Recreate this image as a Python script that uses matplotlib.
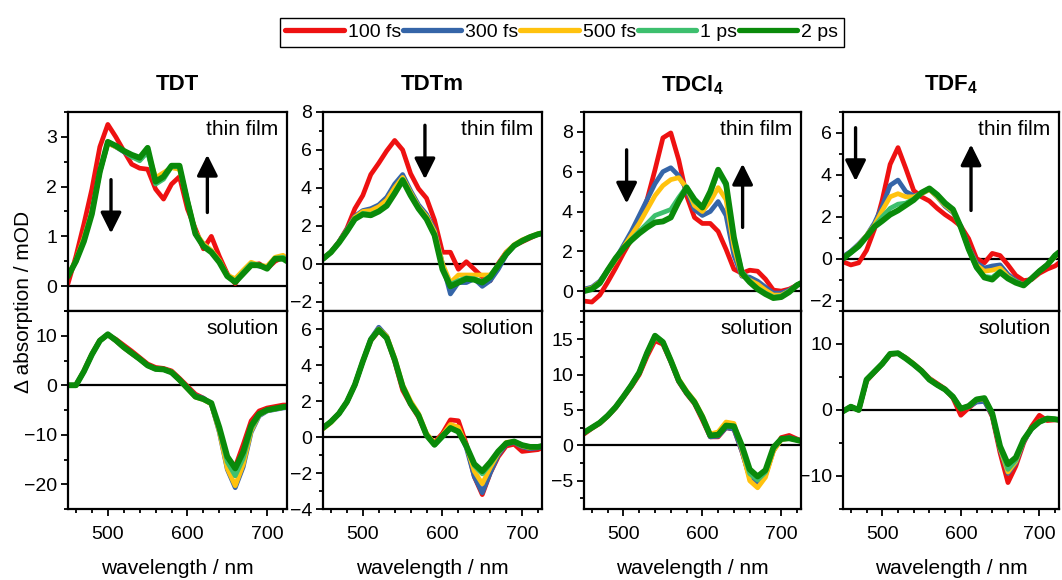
import matplotlib.pyplot as plt
from matplotlib.ticker import MultipleLocator
from matplotlib.lines import Line2D

plt.rcParams['font.family'] = ['Liberation Sans', 'DejaVu Sans']
plt.rcParams['mathtext.fontset'] = 'custom'
plt.rcParams['mathtext.rm'] = 'Liberation Sans'
plt.rcParams['mathtext.bf'] = 'Liberation Sans:bold'

# wavelength grid (nm)
wl = [450, 460, 470, 480, 490, 500, 510, 520, 530, 540, 550, 560, 570, 580,
      590, 600, 610, 620, 630, 640, 650, 660, 670, 680, 690, 700, 710, 720, 725]

delays = ["100 fs", "300 fs", "500 fs", "1 ps", "2 ps"]
colors = ["#ee1111", "#3565a8", "#ffc20e", "#3dbf6e", "#0a8a0a"]
titles = ["TDT", "TDTm", "TDCl$_\\mathbf{4}$", "TDF$_\\mathbf{4}$"]

# ---- TDT ----
tdt_film_100fs = [0.05, 0.6, 1.25, 1.95, 2.8, 3.25, 3.0, 2.72, 2.45, 2.37, 2.35, 1.95, 1.75, 2.05, 2.2, 1.55, 1.15, 0.75, 1.0, 0.6, 0.25, 0.05, 0.3, 0.42, 0.45, 0.35, 0.5, 0.58, 0.5]
tdt_film_300fs = [0.2, 0.5, 0.95, 1.5, 2.3, 2.88, 2.8, 2.7, 2.6, 2.55, 2.7, 2.15, 2.25, 2.4, 2.38, 1.7, 1.05, 0.85, 0.7, 0.5, 0.22, 0.12, 0.3, 0.45, 0.4, 0.38, 0.55, 0.6, 0.52]
tdt_film_500fs = [0.22, 0.52, 0.97, 1.5, 2.3, 2.87, 2.8, 2.72, 2.62, 2.55, 2.72, 2.18, 2.28, 2.38, 2.35, 1.72, 1.08, 0.85, 0.72, 0.52, 0.22, 0.15, 0.32, 0.48, 0.42, 0.4, 0.58, 0.62, 0.55]
tdt_film_1ps = [0.2, 0.5, 0.93, 1.47, 2.3, 2.9, 2.82, 2.72, 2.6, 2.52, 2.7, 2.05, 2.15, 2.4, 2.4, 1.72, 1.05, 0.82, 0.7, 0.5, 0.2, 0.1, 0.28, 0.45, 0.42, 0.36, 0.56, 0.58, 0.52]
tdt_film_2ps = [0.2, 0.5, 0.9, 1.45, 2.3, 2.9, 2.82, 2.72, 2.64, 2.58, 2.78, 2.1, 2.2, 2.42, 2.42, 1.7, 1.05, 0.8, 0.68, 0.48, 0.2, 0.08, 0.25, 0.42, 0.42, 0.35, 0.55, 0.55, 0.5]

tdt_sol_100fs = [0.0, 0.0, 2.9, 6.3, 9.1, 10.2, 9.3, 8.1, 6.9, 5.6, 4.3, 3.6, 3.4, 2.9, 1.4, -0.2, -1.8, -2.6, -3.8, -9.0, -14.5, -16.5, -12.0, -7.2, -5.2, -4.6, -4.3, -4.0, -4.0]
tdt_sol_300fs = [0.0, 0.0, 2.8, 6.2, 9.0, 10.2, 9.0, 7.6, 6.4, 5.3, 4.0, 3.3, 3.2, 2.6, 1.1, -0.5, -2.1, -2.6, -3.8, -9.5, -17.0, -20.7, -16.5, -9.5, -6.2, -5.2, -4.9, -4.6, -4.5]
tdt_sol_500fs = [0.0, 0.0, 2.9, 6.3, 9.0, 10.2, 9.0, 7.6, 6.4, 5.3, 4.0, 3.3, 3.2, 2.7, 1.0, -0.7, -2.4, -2.9, -3.8, -9.3, -16.8, -20.3, -16.0, -9.2, -6.0, -5.1, -4.8, -4.5, -4.4]
tdt_sol_1ps = [0.0, 0.0, 2.8, 6.2, 9.0, 10.3, 9.1, 7.7, 6.5, 5.3, 4.0, 3.3, 3.2, 2.6, 1.1, -0.6, -2.3, -2.8, -3.7, -8.9, -15.5, -18.3, -14.8, -8.8, -6.0, -5.1, -4.8, -4.5, -4.4]
tdt_sol_2ps = [0.0, 0.0, 2.8, 6.2, 9.0, 10.3, 9.1, 7.7, 6.5, 5.3, 4.0, 3.3, 3.2, 2.6, 1.1, -0.6, -2.3, -2.8, -3.6, -8.5, -14.4, -16.8, -13.5, -8.2, -5.8, -5.0, -4.7, -4.4, -4.3]

# ---- TDTm ----
tdtm_film_100fs = [0.25, 0.6, 1.15, 1.85, 2.9, 3.6, 4.7, 5.3, 5.95, 6.5, 6.0, 4.75, 3.95, 3.45, 2.3, 0.6, 0.6, -0.3, 0.1, -0.3, -0.7, -0.9, 0.0, 0.6, 0.95, 1.15, 1.35, 1.55, 1.6]
tdtm_film_300fs = [0.25, 0.6, 1.15, 1.8, 2.5, 2.8, 2.9, 3.1, 3.5, 4.2, 4.7, 3.85, 3.1, 2.6, 1.8, 0.0, -1.6, -1.0, -1.0, -0.8, -1.2, -0.9, -0.3, 0.45, 0.95, 1.2, 1.4, 1.55, 1.6]
tdtm_film_500fs = [0.25, 0.6, 1.12, 1.75, 2.45, 2.75, 2.8, 3.0, 3.35, 4.0, 4.55, 3.75, 3.0, 2.5, 1.7, 0.0, -1.0, -0.6, -0.6, -0.6, -0.6, -0.6, -0.1, 0.6, 1.0, 1.25, 1.42, 1.58, 1.62]
tdtm_film_1ps = [0.25, 0.6, 1.1, 1.7, 2.35, 2.65, 2.6, 2.78, 3.1, 3.75, 4.45, 3.65, 2.95, 2.4, 1.55, -0.2, -1.1, -0.9, -0.75, -0.8, -0.95, -0.65, -0.05, 0.5, 0.95, 1.2, 1.4, 1.55, 1.6]
tdtm_film_2ps = [0.25, 0.6, 1.1, 1.7, 2.35, 2.6, 2.55, 2.75, 3.05, 3.7, 4.4, 3.6, 2.9, 2.35, 1.5, -0.3, -1.2, -1.0, -0.8, -0.85, -1.0, -0.7, -0.1, 0.5, 0.95, 1.2, 1.4, 1.55, 1.6]

tdtm_sol_100fs = [0.5, 0.85, 1.3, 1.95, 2.9, 4.2, 5.35, 5.9, 5.5, 4.2, 2.6, 1.8, 1.1, 0.1, -0.3, 0.2, 0.95, 0.9, -0.4, -2.2, -3.2, -2.0, -1.1, -0.5, -0.4, -0.8, -0.75, -0.7, -0.6]
tdtm_sol_300fs = [0.5, 0.85, 1.3, 1.95, 2.9, 4.2, 5.45, 6.1, 5.6, 4.3, 2.8, 1.9, 1.2, 0.15, -0.4, 0.05, 0.55, 0.4, -0.6, -2.2, -3.1, -2.0, -1.0, -0.4, -0.3, -0.55, -0.65, -0.6, -0.55]
tdtm_sol_500fs = [0.45, 0.8, 1.3, 1.95, 2.9, 4.2, 5.4, 6.0, 5.6, 4.4, 2.9, 2.0, 1.3, 0.2, -0.35, 0.1, 0.7, 0.55, -0.5, -1.9, -2.6, -1.7, -0.9, -0.3, -0.25, -0.5, -0.6, -0.55, -0.5]
tdtm_sol_1ps = [0.5, 0.85, 1.3, 1.95, 2.9, 4.2, 5.4, 5.95, 5.5, 4.3, 2.8, 1.85, 1.2, 0.1, -0.45, 0.0, 0.5, 0.3, -0.5, -1.6, -2.05, -1.5, -0.85, -0.35, -0.25, -0.45, -0.55, -0.55, -0.5]
tdtm_sol_2ps = [0.5, 0.85, 1.3, 1.95, 2.9, 4.2, 5.4, 5.95, 5.5, 4.3, 2.8, 1.85, 1.2, 0.1, -0.43, 0.05, 0.5, 0.3, -0.5, -1.5, -1.9, -1.4, -0.8, -0.35, -0.25, -0.45, -0.55, -0.55, -0.5]

# ---- TDCl4 ----
tdcl_film_100fs = [-0.5, -0.55, -0.2, 0.45, 1.15, 1.9, 2.6, 3.5, 4.6, 6.1, 7.7, 7.95, 6.6, 4.8, 3.7, 3.4, 3.4, 3.0, 2.1, 1.1, 0.9, 1.05, 1.0, 0.6, 0.05, 0.0, 0.1, 0.3, 0.4]
tdcl_film_300fs = [0.1, 0.2, 0.5, 1.05, 1.6, 2.3, 3.0, 3.8, 4.6, 5.4, 6.0, 6.2, 5.8, 5.1, 4.1, 3.8, 4.0, 4.5, 3.8, 1.8, 0.75, 0.7, 0.5, 0.2, -0.1, -0.1, 0.05, 0.3, 0.4]
tdcl_film_500fs = [0.05, 0.15, 0.45, 1.0, 1.55, 2.2, 2.8, 3.4, 4.1, 4.8, 5.3, 5.6, 5.7, 5.2, 4.3, 4.0, 4.5, 5.2, 4.6, 2.2, 0.8, 0.55, 0.35, 0.05, -0.2, -0.2, 0.0, 0.3, 0.4]
tdcl_film_1ps = [0.0, 0.1, 0.4, 1.05, 1.6, 2.15, 2.6, 3.0, 3.4, 3.8, 3.95, 4.1, 4.7, 5.25, 4.5, 4.2, 4.9, 6.0, 5.3, 2.6, 1.0, 0.5, 0.15, -0.1, -0.3, -0.25, 0.0, 0.3, 0.4]
tdcl_film_2ps = [0.0, 0.1, 0.4, 1.05, 1.65, 2.15, 2.55, 2.9, 3.2, 3.45, 3.5, 3.7, 4.5, 5.2, 4.6, 4.2, 5.0, 6.1, 5.4, 2.7, 0.9, 0.45, 0.1, -0.15, -0.35, -0.3, -0.05, 0.3, 0.4]

tdcl_sol_100fs = [1.6, 2.4, 3.1, 4.1, 5.3, 6.8, 8.3, 10.0, 12.6, 14.8, 14.3, 11.8, 9.0, 7.3, 5.9, 3.6, 1.2, 1.2, 2.5, 2.3, -0.8, -4.5, -5.6, -4.2, -0.8, 1.1, 1.4, 0.9, 0.7]
tdcl_sol_300fs = [1.8, 2.5, 3.2, 4.2, 5.4, 6.9, 8.5, 10.3, 13.0, 15.3, 14.5, 11.9, 9.1, 7.4, 6.0, 3.9, 1.2, 1.3, 2.5, 2.3, -0.8, -4.6, -5.5, -4.0, -0.6, 0.9, 1.1, 0.8, 0.65]
tdcl_sol_500fs = [1.8, 2.5, 3.2, 4.2, 5.4, 6.9, 8.5, 10.3, 13.0, 15.3, 14.6, 12.1, 9.4, 7.7, 6.3, 4.2, 1.6, 1.9, 3.3, 3.1, -0.5, -5.0, -6.0, -4.5, -0.8, 0.8, 1.0, 0.75, 0.6]
tdcl_sol_1ps = [1.8, 2.5, 3.2, 4.2, 5.4, 6.9, 8.5, 10.3, 13.1, 15.5, 14.6, 12.0, 9.2, 7.5, 6.1, 4.0, 1.4, 1.5, 2.8, 2.7, -0.3, -4.0, -4.9, -3.8, -0.5, 0.9, 1.0, 0.75, 0.6]
tdcl_sol_2ps = [1.8, 2.5, 3.2, 4.2, 5.4, 6.9, 8.5, 10.3, 13.1, 15.5, 14.6, 12.0, 9.2, 7.5, 6.1, 4.0, 1.4, 1.5, 2.8, 2.7, 0.0, -3.4, -4.4, -3.5, -0.3, 0.9, 1.0, 0.75, 0.6]

# ---- TDF4 ----
tdf_film_100fs = [-0.15, -0.3, -0.2, 0.4, 1.4, 2.8, 4.5, 5.3, 4.3, 3.25, 2.95, 2.75, 2.4, 2.1, 1.85, 1.55, 0.95, 0.0, -0.2, 0.25, 0.15, -0.3, -0.8, -1.05, -1.0, -0.7, -0.5, -0.35, -0.2]
tdf_film_300fs = [0.1, 0.35, 0.7, 1.1, 1.7, 2.5, 3.5, 3.75, 3.2, 3.0, 3.1, 3.3, 2.95, 2.5, 2.2, 1.55, 0.55, -0.2, -0.45, -0.35, -0.3, -0.75, -1.05, -1.25, -0.95, -0.6, -0.3, 0.1, 0.25]
tdf_film_500fs = [0.05, 0.3, 0.65, 1.1, 1.6, 2.3, 2.95, 3.1, 2.95, 2.95, 3.1, 3.3, 2.95, 2.55, 2.25, 1.5, 0.5, -0.3, -0.6, -0.55, -0.45, -0.85, -1.1, -1.25, -0.95, -0.6, -0.3, 0.1, 0.25]
tdf_film_1ps = [0.0, 0.28, 0.6, 1.05, 1.55, 2.0, 2.4, 2.6, 2.65, 2.85, 3.15, 3.35, 3.0, 2.6, 2.3, 1.5, 0.45, -0.45, -0.85, -0.9, -0.6, -0.9, -1.1, -1.28, -0.95, -0.6, -0.3, 0.15, 0.3]
tdf_film_2ps = [0.0, 0.3, 0.6, 1.05, 1.52, 1.8, 2.1, 2.3, 2.55, 2.8, 3.15, 3.35, 3.05, 2.65, 2.35, 1.5, 0.45, -0.4, -0.9, -1.0, -0.65, -0.95, -1.15, -1.28, -0.95, -0.6, -0.3, 0.15, 0.3]

tdf_sol_100fs = [-0.2, 0.5, 0.0, 4.4, 5.7, 7.0, 8.4, 8.6, 7.9, 7.0, 6.0, 4.8, 4.0, 3.2, 1.8, -0.8, 0.3, 1.3, 1.5, -1.0, -6.5, -11.0, -8.5, -5.0, -2.5, -0.8, -1.6, -1.5, -1.5]
tdf_sol_300fs = [-0.2, 0.5, 0.0, 4.5, 5.8, 7.0, 8.5, 8.6, 7.9, 6.9, 5.9, 4.7, 3.8, 3.1, 2.0, 0.2, 0.5, 1.2, 1.3, -0.8, -6.0, -9.6, -8.0, -4.8, -2.9, -1.8, -1.3, -1.4, -1.5]
tdf_sol_500fs = [-0.2, 0.5, 0.0, 4.5, 5.8, 7.0, 8.5, 8.6, 7.9, 7.0, 5.9, 4.7, 3.8, 3.1, 2.0, 0.2, 0.6, 1.5, 1.7, -0.6, -5.8, -9.4, -7.8, -4.6, -2.8, -1.7, -1.3, -1.4, -1.5]
tdf_sol_1ps = [-0.2, 0.5, 0.0, 4.5, 5.8, 7.0, 8.5, 8.6, 7.8, 6.9, 5.9, 4.6, 3.8, 3.1, 2.0, 0.2, 0.6, 1.6, 1.8, -0.5, -5.6, -9.0, -7.6, -4.5, -2.8, -1.8, -1.3, -1.4, -1.5]
tdf_sol_2ps = [-0.2, 0.5, 0.0, 4.6, 5.8, 7.0, 8.5, 8.6, 7.8, 6.9, 5.9, 4.6, 3.8, 3.1, 2.0, 0.2, 0.6, 1.6, 1.8, -0.5, -5.5, -8.2, -7.2, -4.5, -2.8, -1.8, -1.3, -1.4, -1.5]

film_data = [
    [tdt_film_100fs, tdt_film_300fs, tdt_film_500fs, tdt_film_1ps, tdt_film_2ps],
    [tdtm_film_100fs, tdtm_film_300fs, tdtm_film_500fs, tdtm_film_1ps, tdtm_film_2ps],
    [tdcl_film_100fs, tdcl_film_300fs, tdcl_film_500fs, tdcl_film_1ps, tdcl_film_2ps],
    [tdf_film_100fs, tdf_film_300fs, tdf_film_500fs, tdf_film_1ps, tdf_film_2ps],
]
sol_data = [
    [tdt_sol_100fs, tdt_sol_300fs, tdt_sol_500fs, tdt_sol_1ps, tdt_sol_2ps],
    [tdtm_sol_100fs, tdtm_sol_300fs, tdtm_sol_500fs, tdtm_sol_1ps, tdtm_sol_2ps],
    [tdcl_sol_100fs, tdcl_sol_300fs, tdcl_sol_500fs, tdcl_sol_1ps, tdcl_sol_2ps],
    [tdf_sol_100fs, tdf_sol_300fs, tdf_sol_500fs, tdf_sol_1ps, tdf_sol_2ps],
]

film_ylim = [(-0.5, 3.5), (-2.5, 8), (-1, 9), (-2.5, 7)]
film_major = [1, 2, 2, 2]
sol_ylim = [(-25, 15), (-4, 7), (-9, 19), (-15, 15)]
sol_major = [10, 2, 5, 10]

# arrows: (x, y_start, y_end) in data units of the thin-film panels
film_arrows = [
    [(504, 2.14, 1.06), (625, 1.48, 2.64)],
    [(578, 7.3, 4.45)],
    [(504, 7.1, 4.4), (651, 3.2, 6.4)],
    [(466, 6.25, 3.7), (613, 2.3, 5.45)],
]

fig = plt.figure(figsize=(10.62, 5.8), dpi=100)
W, H = 1062, 580
col_left = [68, 323, 584, 843]
col_width = [219, 219, 217, 216]
line_w = [3.4, 3.4, 3.4, 3.4, 4.2]


def style(ax, major, ylim):
    ax.set_xlim(450, 725)
    ax.set_ylim(*ylim)
    ax.yaxis.set_major_locator(MultipleLocator(major))
    ax.yaxis.set_minor_locator(MultipleLocator(major / 2))
    ax.xaxis.set_major_locator(MultipleLocator(100))
    ax.xaxis.set_minor_locator(MultipleLocator(20))
    ax.tick_params(which='both', direction='out', width=1.3, labelsize=14,
                   top=False, right=False)
    ax.tick_params(which='major', length=5)
    ax.tick_params(which='minor', length=3)
    ax.tick_params(axis='y', pad=3)
    ax.tick_params(axis='x', pad=7)
    for s in ax.spines.values():
        s.set_linewidth(1.6)


def draw(ax, curves):
    ax.axhline(0, color='k', lw=1.6, zorder=1)
    for y, c, lw in zip(curves, colors, line_w):
        ax.plot(wl, y, color=c, lw=lw, solid_joinstyle='round',
                solid_capstyle='round', zorder=2)


for i in range(4):
    l = col_left[i] / W
    w = col_width[i] / W
    ax_t = fig.add_axes([l, 1 - 311 / H, w, 199 / H])
    ax_b = fig.add_axes([l, 1 - 509 / H, w, 198 / H])

    draw(ax_t, film_data[i])
    draw(ax_b, sol_data[i])
    style(ax_t, film_major[i], film_ylim[i])
    style(ax_b, sol_major[i], sol_ylim[i])
    ax_t.tick_params(axis='x', which='both', bottom=False, labelbottom=False)

    ax_t.text(0.96, 0.91, "thin film", transform=ax_t.transAxes,
              ha='right', va='center', fontsize=15)
    ax_b.text(0.96, 0.91, "solution", transform=ax_b.transAxes,
              ha='right', va='center', fontsize=15)

    for x, y0, y1 in film_arrows[i]:
        ax_t.annotate('', xy=(x, y1), xytext=(x, y0),
                      arrowprops=dict(arrowstyle='-|>,head_width=0.45,head_length=0.9',
                                      lw=2.4, color='k', mutation_scale=14,
                                      shrinkA=0, shrinkB=0))

    cx = l + w / 2
    fig.text(cx, 1 - 85 / H, titles[i], ha='center', va='center',
             fontsize=16, fontweight='bold')
    fig.text(cx, 1 - 569 / H, "wavelength / nm", ha='center', va='center',
             fontsize=15)

fig.text(0.022, 0.48, "Δ absorption / mOD", rotation=90, ha='center',
         va='center', fontsize=15)

handles = [Line2D([], [], color=c, lw=3.8, solid_capstyle='round') for c in colors]
fig.legend(handles, delays, loc='center', bbox_to_anchor=(0.529, 0.944),
           ncol=5, frameon=True, fancybox=False, edgecolor='k', fontsize=14,
           handlelength=3.0, handletextpad=0.2, columnspacing=0.1,
           borderpad=0.3, borderaxespad=0, framealpha=1)

plt.savefig("out.png", dpi=100)
